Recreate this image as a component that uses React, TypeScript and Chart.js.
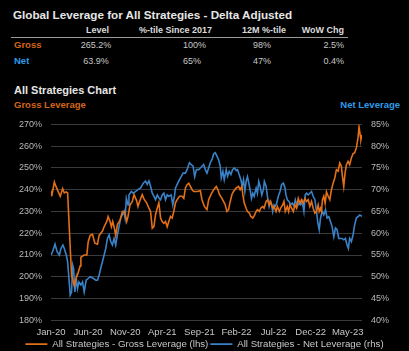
import React, { useEffect, useRef } from "react";
import { Chart, registerables } from "chart.js";

Chart.register(...registerables);

// ---- Data ----
const xTickLabels = ["Jan-20", "Jun-20", "Nov-20", "Apr-21", "Sep-21", "Feb-22", "Jul-22", "Dec-22", "May-23"];

// months since Jan-2020
const grossMonths = [
  0, 0.09, 0.45, 0.67, 0.98, 1.25, 1.57, 1.79, 2.06, 2.24, 2.77, 3.13, 3.36, 3.67, 3.94, 4.03, 4.47, 4.83, 5.01, 5.28,
  5.59, 5.91, 6.26, 6.49, 6.94, 7.16, 7.52, 7.7, 7.96, 8.14, 8.32, 8.5, 8.72, 8.95, 9.31, 9.62, 9.93, 10.2, 10.38, 10.65,
  10.96, 11.19, 11.54, 11.72, 11.99, 12.3, 12.53, 12.89, 13.2, 13.42, 13.65, 13.87, 14.09, 14.32, 14.54, 14.77, 14.99, 15.21, 15.44, 15.66,
  15.88, 16.11, 16.33, 16.55, 16.78, 17.0, 17.32, 17.67, 17.9, 18.12, 18.34, 18.57, 18.79, 19.02, 19.24, 19.69, 20.13,
  20.35, 20.67, 21.02, 21.25, 21.56, 21.92, 22.28, 22.5, 22.72, 23.04, 23.26, 23.49, 23.71, 23.93, 24.16, 24.38, 24.6, 24.96,
  25.28, 25.5, 25.72, 25.86, 26.04, 26.3, 26.48, 26.75, 26.93, 27.2, 27.42, 27.65, 27.83, 28.09, 28.27, 28.54, 28.72, 28.99,
  29.21, 29.44, 29.61, 29.88, 30.06, 30.33, 30.51, 30.78, 30.96, 31.23, 31.4, 31.58, 31.85, 32.03, 32.21, 32.43, 32.66, 32.88,
  33.1, 33.33, 33.55, 33.78, 34.0, 34.22, 34.45, 34.67, 34.89, 35.12, 35.34, 35.57, 35.79, 36.01, 36.15, 36.33, 36.46, 36.59,
  36.77, 36.95, 37.13, 37.36, 37.58, 37.8, 38.03, 38.25, 38.47, 38.7, 38.92, 39.14, 39.28, 39.46, 39.64, 39.82, 40.04, 40.26,
  40.49, 40.71, 40.93, 41.16, 41.38, 41.52, 41.7, 41.78, 41.92,
];
const grossValues = [
  239.5, 237, 243.5, 241.5, 239, 237, 240.5, 238.5, 239, 238.5, 200.8, 196, 199, 202, 205, 209, 210, 210, 216, 219,
  219.5, 215.4, 215, 219, 221, 223, 225.4, 227.7, 225.4, 223, 225.4, 223, 219, 224, 226, 230, 230, 225.4, 227.7, 233,
  234.6, 237.7, 235, 232.3, 235, 237.7, 235.8, 234, 231.5, 230, 222.3, 223, 228.5, 231.5, 234, 227, 225.4, 224.6, 225.4, 223,
  225.4, 227.7, 227, 230, 234, 235.4, 237, 237, 236, 240.8, 242.3, 243, 241.5, 240, 239.2, 239.2, 239.5,
  235.4, 232.3, 230.8, 235.4, 237.7, 240, 241.5, 240, 237.7, 236, 234.6, 233, 230, 230.8, 234.6, 237.7, 239.2, 240.8,
  241.5, 240, 241.5, 237.7, 234, 231.5, 230, 229.2, 227.7, 227, 228.2, 230, 230.8, 230, 231.5, 232.3, 231.5, 234.6,
  235.4, 233, 234.6, 231.5, 232.3, 230, 232.3, 230, 231.5, 233, 234.6, 230, 232.3, 230, 233, 231.5, 230, 233,
  231.5, 236, 233.8, 235.4, 233.8, 236, 234.6, 235.4, 232.3, 234.6, 231.5, 229.2, 230, 233, 230, 231.5, 230, 235.4,
  237, 233.8, 239, 237, 235.4, 240, 243, 245.4, 249.2, 248.5, 252.3, 250.8, 246.2, 241.5, 247.7, 251.5, 253, 251.5,
  254.6, 256.5, 257, 259.2, 263.8, 268.8, 264.6, 263, 265.2,
];

const netMonths = [
  0, 0.22, 0.54, 0.81, 1.12, 1.34, 1.61, 1.79, 2.06, 2.24, 2.42, 2.59, 2.77, 2.91, 3.04, 3.22, 3.4, 3.58, 3.76, 4.03,
  4.25, 4.47, 4.74, 5.01, 5.28, 5.73, 6.04, 6.26, 6.49, 6.71, 6.94, 7.16, 7.38, 7.61, 7.83, 8.05, 8.28, 8.5, 8.72, 8.95,
  9.17, 9.4, 9.62, 9.84, 9.98, 10.16, 10.38, 10.51, 10.83, 11.1, 11.41, 11.72, 12.08, 12.44, 12.75, 12.97, 13.2, 13.42, 13.65, 13.87,
  14.09, 14.32, 14.54, 14.77, 14.99, 15.21, 15.44, 15.66, 15.88, 16.2, 16.42, 16.64, 16.78, 17.09, 17.32, 17.54, 17.81, 18.12, 18.34, 18.66,
  18.88, 19.15, 19.37, 19.6, 19.91, 20.13,
  20.35, 20.58, 20.8, 21.02, 21.25, 21.47, 21.7, 21.92, 22.14, 22.37, 22.59, 22.81, 22.95, 23.17, 23.35, 23.62, 23.8, 24.02,
  24.25, 24.47, 24.74, 24.96, 25.14, 25.36, 25.59, 25.77, 25.95, 26.13, 26.3, 26.48, 26.66, 26.84, 27.02, 27.2, 27.38, 27.65,
  27.83, 28.0, 28.18, 28.41, 28.63, 28.76, 28.99, 29.21, 29.39, 29.53, 29.7, 29.88, 30.06, 30.24, 30.42, 30.64, 30.87, 31.09,
  31.32, 31.54, 31.67, 31.85, 32.08, 32.3, 32.52, 32.75, 32.93, 33.19, 33.42, 33.64, 33.86, 34.09, 34.27, 34.45, 34.67, 34.89,
  35.12, 35.34, 35.57, 35.79, 35.97, 36.15, 36.33, 36.55, 36.77, 37.0, 37.22, 37.45, 37.67, 37.89, 38.12, 38.34, 38.56, 38.79,
  39.01, 39.23, 39.46, 39.68, 39.91, 40.08, 40.26, 40.49, 40.71, 40.93, 41.16, 41.38, 41.6, 41.92,
];
const netValues = [
  55, 55.8, 57.5, 55.8, 55, 56.5, 57.3, 56.5, 55, 53.5, 49.6, 45.8, 46.5, 52.7, 51.9, 46.5, 49.6, 47.3, 48.8, 48.1,
  48.8, 46.5, 49.2, 49.6, 50, 49.6, 49.2, 49.2, 50.4, 52, 53.5, 55, 56.5, 58.8, 59.6, 58.1, 57.3, 58.8, 57.3, 59.6,
  61.5, 63.5, 64.2, 65, 63.5, 68, 66.5, 68.8, 69.6, 69.2, 69.6, 70, 70.4, 71.5, 72, 71.2, 72, 70.8, 69.2, 68.5,
  67.7, 68.8, 68.1, 67.7, 68.8, 69.2, 67.7, 68.8, 68.5, 68.8, 66.5, 68.5, 70.4, 71.5, 72.3, 73, 73.8, 73.8, 74.6, 76.2,
  75.8, 75.4, 73, 74.6, 74.6, 75,
  75.4, 75.8, 74.6, 73.8, 75, 76.2, 76.9, 78.2, 78.5, 77.7, 76.9, 75.4, 72.7, 74.2, 72.3, 74.6, 73.1, 74.2,
  73.5, 74.6, 75, 74.4, 74.6, 73.5, 72.3, 70.8, 72.3, 69.6, 71.9, 73, 71.5, 70, 68, 69.2, 68.5, 70.4,
  69.2, 71.9, 70.8, 68.8, 70, 71.9, 70.8, 68, 66.2, 67.3, 66.9, 65, 66.5, 66.2, 66.9, 68.5, 69.6, 71.2,
  71.5, 70.4, 68.8, 67.7, 67.3, 66.5, 66.9, 66.2, 67.7, 66.2, 66.9, 66.5, 67.3, 65, 68.8, 69.2, 68.8, 69.2,
  69.6, 68.5, 67.7, 65, 62.3, 60.8, 63.5, 65, 64.2, 65.4, 63.5, 63.8, 62.7, 61.5, 59.2, 61.2, 60.8, 58.8,
  58.8, 58.8, 58.5, 58.8, 57.3, 56.5, 58.8, 58.1, 59.6, 61.9, 63.5, 63.8, 64.2, 63.9,
];

const tableHeaders = ["Level", "%-tile Since 2017", "12M %-tile", "WoW Chg"];
const grossRow = ["265.2%", "100%", "98%", "2.5%"];
const netRow = ["63.9%", "65%", "47%", "0.4%"];

const ORANGE = "#e36f17";
const BLUE = "#3a82c8";
const ORANGE_TXT = "#d2661a";
const BLUE_TXT = "#2f9ae8";
const FONT = "'Liberation Sans', Arial, sans-serif";

// column anchors: [x, align]
const headerCols: [number, string][] = [[109, "right"], [212, "right"], [286, "right"], [344, "right"]];
const valueCols: [number, string][] = [[96, "center"], [183, "left"], [262, "center"], [344, "right"]];

function Txt(props: { x: number; y: number; align?: string; color: string; bold?: boolean; size: number; children: React.ReactNode }) {
  const { x, y, align = "left", color, bold, size, children } = props;
  const tx = align === "left" ? "0" : align === "center" ? "-50%" : "-100%";
  return (
    <div
      style={{
        position: "absolute",
        left: x,
        top: y,
        transform: `translate(${tx}, -50%)`,
        color,
        fontWeight: bold ? "bold" : "normal",
        fontSize: size,
        fontFamily: FONT,
        whiteSpace: "nowrap",
        lineHeight: 1,
      }}
    >
      {children}
    </div>
  );
}

export default function App() {
  const canvasRef = useRef<HTMLCanvasElement | null>(null);

  useEffect(() => {
    document.body.style.margin = "0";
    document.body.style.background = "#000";
    const canvas = canvasRef.current;
    if (!canvas) return;
    const chart = new Chart(canvas, {
      type: "line",
      data: {
        datasets: [
          {
            label: "All Strategies - Gross Leverage (lhs)",
            data: grossMonths.map((m, i) => ({ x: m, y: grossValues[i] })),
            borderColor: ORANGE,
            backgroundColor: ORANGE,
            borderWidth: 1.6,
            pointRadius: 0,
            tension: 0,
            yAxisID: "y",
          },
          {
            label: "All Strategies - Net Leverage (rhs)",
            data: netMonths.map((m, i) => ({ x: m, y: netValues[i] })),
            borderColor: BLUE,
            backgroundColor: BLUE,
            borderWidth: 1.6,
            pointRadius: 0,
            tension: 0,
            yAxisID: "y1",
          },
        ],
      },
      options: {
        responsive: false,
        animation: false,
        devicePixelRatio: 1,
        layout: { padding: { top: 13, left: 0, right: 0, bottom: 0 } },
        plugins: {
          tooltip: { enabled: false },
          legend: {
            position: "bottom",
            labels: {
              color: "#c8c8c8",
              font: { family: FONT, size: 9.7 },
              usePointStyle: true,
              pointStyle: "line",
              pointStyleWidth: 22,
              boxHeight: 9,
              padding: 2,
            },
          },
        },
        scales: {
          x: {
            type: "linear",
            min: 0,
            max: 41.92,
            grid: { display: false, drawTicks: false },
            border: { display: false },
            afterBuildTicks: (s: any) => {
              s.ticks = xTickLabels.map((_, i) => ({ value: i * 5 }));
            },
            afterFit: (s: any) => {
              s.height = 17;
            },
            ticks: {
              color: "#c8c8c8",
              font: { family: FONT, size: 9.5 },
              padding: 6,
              maxRotation: 0,
              autoSkip: false,
              callback: (v: any) => xTickLabels[Math.round(Number(v) / 5)] ?? "",
            },
          },
          y: {
            position: "left",
            min: 180,
            max: 270,
            grid: { color: "#3a3a3a", lineWidth: 1, drawTicks: false },
            border: { display: false },
            afterFit: (s: any) => {
              s.width = 51;
            },
            ticks: {
              stepSize: 10,
              color: "#b8b8b8",
              font: { family: FONT, size: 9 },
              padding: 9,
              callback: (v: any) => `${v}%`,
            },
          },
          y1: {
            position: "right",
            min: 40,
            max: 85,
            grid: { display: false, drawTicks: false },
            border: { display: false },
            afterFit: (s: any) => {
              s.width = 47;
            },
            ticks: {
              stepSize: 5,
              color: "#b8b8b8",
              font: { family: FONT, size: 9 },
              padding: 9,
              callback: (v: any) => `${v}%`,
            },
          },
        },
      },
    } as any);
    return () => chart.destroy();
  }, []);

  return (
    <div style={{ position: "relative", width: 409, height: 351, background: "#000", overflow: "hidden" }}>
      <Txt x={13} y={15} color="#e6e6e6" bold size={11.7}>
        Global Leverage for All Strategies - Delta Adjusted
      </Txt>
      {tableHeaders.map((h, i) => (
        <Txt key={h} x={headerCols[i][0]} y={30} align={headerCols[i][1]} color="#dcdcdc" bold size={9}>
          {h}
        </Txt>
      ))}
      <div style={{ position: "absolute", left: 11, top: 37, width: 337, height: 1, background: "#9a9a9a" }} />
      <Txt x={14} y={45} color={ORANGE_TXT} bold size={9.5}>Gross</Txt>
      <Txt x={14} y={61} color={BLUE_TXT} bold size={9.5}>Net</Txt>
      {grossRow.map((v, i) => (
        <Txt key={"g" + i} x={valueCols[i][0]} y={45} align={valueCols[i][1]} color="#c8c8c8" size={9}>
          {v}
        </Txt>
      ))}
      {netRow.map((v, i) => (
        <Txt key={"n" + i} x={valueCols[i][0]} y={61} align={valueCols[i][1]} color="#c8c8c8" size={9}>
          {v}
        </Txt>
      ))}
      <Txt x={14} y={90} color="#e6e6e6" bold size={11}>All Strategies Chart</Txt>
      <Txt x={14} y={105} color={ORANGE_TXT} bold size={9.5}>Gross Leverage</Txt>
      <Txt x={400} y={105} align="right" color={BLUE_TXT} bold size={9.5}>Net Leverage</Txt>
      <canvas
        ref={canvasRef}
        width={409}
        height={249}
        style={{ position: "absolute", left: 0, top: 110, width: 409, height: 249 }}
      />
    </div>
  );
}
